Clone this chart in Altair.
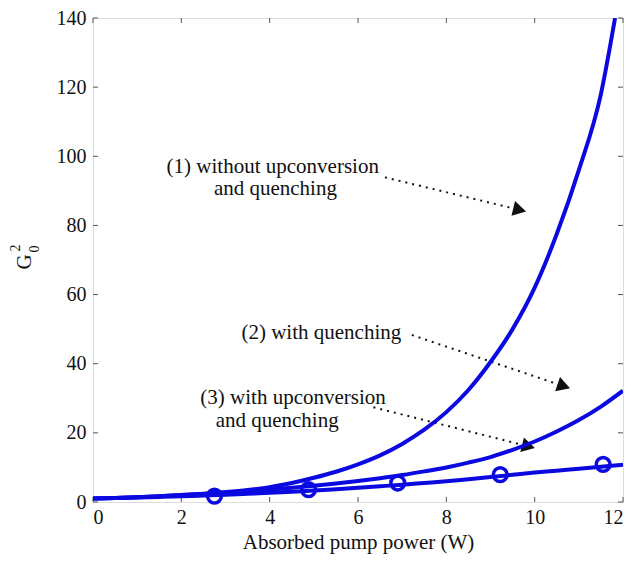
import math
import altair as alt
import pandas as pd

# ---------------- data ----------------
power_1 = [0, 0.5, 1, 1.5, 2, 2.5, 3, 3.5, 4, 4.5, 5, 5.5, 6, 6.5, 7, 7.5, 8, 8.5,
           9, 9.5, 10, 10.5, 11, 11.5, 11.82]
gain_1 = [1.0, 1.18, 1.4, 1.68, 2.0, 2.4, 2.9, 3.5, 4.3, 5.5, 7.0, 8.75, 10.9, 13.5,
          16.8, 20.9, 26.0, 32.4, 40.5, 50.0, 62.0, 77.5, 96.0, 118.0, 140.0]

power_23 = [0, 0.5, 1, 1.5, 2, 2.5, 3, 3.5, 4, 4.5, 5, 5.5, 6, 6.5, 7, 7.5, 8, 8.5,
            9, 9.5, 10, 10.5, 11, 11.5, 12]
gain_2 = [1.0, 1.18, 1.4, 1.68, 2.0, 2.33, 2.7, 3.1, 3.6, 4.1, 4.7, 5.35, 6.1, 6.9,
          7.8, 8.85, 10.0, 11.4, 13.0, 15.1, 17.5, 20.4, 23.7, 27.6, 32.2]
gain_3 = [1.0, 1.15, 1.3, 1.47, 1.65, 1.86, 2.1, 2.37, 2.65, 2.97, 3.3, 3.7, 4.1,
          4.55, 5.0, 5.5, 6.0, 6.6, 7.2, 7.85, 8.5, 9.05, 9.6, 10.2, 10.8]

circle_power = [2.75, 4.88, 6.9, 9.22, 11.55]
circle_gain = [1.7, 3.6, 5.5, 7.9, 10.9]

x_ticks = [0, 2, 4, 6, 8, 10, 12]
y_ticks = [0, 20, 40, 60, 80, 100, 120, 140]

label_text = ["(1) without upconversion", "and quenching", "(2) with quenching",
              "(3) with upconversion", "and quenching"]
label_x = [4.07, 4.13, 5.17, 4.53, 4.17]
label_y = [95.2, 88.7, 47.1, 28.4, 21.8]

arrow_x1 = [6.61, 7.22, 6.35]
arrow_y1 = [93.9, 48.3, 27.4]
arrow_x2 = [9.66, 10.66, 9.86]
arrow_y2 = [84.5, 33.5, 16.1]

# ---------------- layout ----------------
W, H = 530, 484
XMAX, YMAX = 12, 140
FONT = "Liberation Serif"
BLUE = "#0a0ae0"
FRAME = "#555555"

curves = pd.concat([
    pd.DataFrame({"P": power_1, "G": gain_1, "s": "1"}),
    pd.DataFrame({"P": power_23, "G": gain_2, "s": "2"}),
    pd.DataFrame({"P": power_23, "G": gain_3, "s": "3"}),
])
circles = pd.DataFrame({"P": circle_power, "G": circle_gain})
labels = pd.DataFrame({"t": label_text, "x": label_x, "y": label_y})
px, py = W / XMAX, H / YMAX
arrows = pd.DataFrame({
    "x1": arrow_x1, "y1": arrow_y1, "x2": arrow_x2, "y2": arrow_y2,
    "ang": [math.degrees(math.atan2((a - b) * py, (d - c) * px))
            for a, b, c, d in zip(arrow_y1, arrow_y2, arrow_x1, arrow_x2)],
})

xs = alt.Scale(domain=[0, XMAX], nice=False)
ys = alt.Scale(domain=[0, YMAX], nice=False)

x_axis = alt.Axis(values=x_ticks, ticks=False, domain=False, grid=False,
                  labelFont=FONT, labelFontSize=20, labelColor="#111",
                  labelPadding=5, title="Absorbed pump power (W)",
                  titleFont=FONT, titleFontSize=21, titleFontWeight="normal",
                  titleColor="#111", titlePadding=4)
y_axis = alt.Axis(values=y_ticks, ticks=False, domain=False, grid=False,
                  labelFont=FONT, labelFontSize=20, labelColor="#111",
                  labelPadding=7, title=None)

lines = alt.Chart(curves).mark_line(color=BLUE, strokeWidth=4, interpolate="monotone",
                                    clip=True).encode(
    x=alt.X("P:Q", scale=xs, axis=x_axis),
    y=alt.Y("G:Q", scale=ys, axis=y_axis),
    detail="s:N",
)

pts = alt.Chart(circles).mark_point(shape="circle", filled=False, color=BLUE,
                                    strokeWidth=3.5, size=190, opacity=1).encode(
    x=alt.X("P:Q", scale=xs), y=alt.Y("G:Q", scale=ys))

dots = alt.Chart(arrows).mark_rule(color="#111", strokeWidth=2,
                                   strokeDash=[2, 5]).encode(
    x=alt.X("x1:Q", scale=xs), y=alt.Y("y1:Q", scale=ys), x2="x2:Q", y2="y2:Q")

heads = alt.Chart(arrows).mark_point(shape="triangle-right", filled=True,
                                     color="#111", size=230, opacity=1).encode(
    x=alt.X("x2:Q", scale=xs), y=alt.Y("y2:Q", scale=ys),
    angle=alt.Angle("ang:Q", scale=None))

texts = alt.Chart(labels).mark_text(font=FONT, fontSize=21, color="#111",
                                    align="center", baseline="alphabetic").encode(
    x=alt.X("x:Q", scale=xs), y=alt.Y("y:Q", scale=ys), text="t:N")

# inward tick marks on all four sides
xt = pd.DataFrame({"v": x_ticks})
yt = pd.DataFrame({"v": y_ticks})
tb = alt.Chart(xt).mark_rule(color=FRAME, strokeWidth=1).encode(
    x=alt.X("v:Q", scale=xs), y=alt.value(H), y2=alt.value(H - 5))
tt = alt.Chart(xt).mark_rule(color=FRAME, strokeWidth=1).encode(
    x=alt.X("v:Q", scale=xs), y=alt.value(0), y2=alt.value(5))
tl = alt.Chart(yt).mark_rule(color=FRAME, strokeWidth=1).encode(
    y=alt.Y("v:Q", scale=ys), x=alt.value(0), x2=alt.value(5))
tr = alt.Chart(yt).mark_rule(color=FRAME, strokeWidth=1).encode(
    y=alt.Y("v:Q", scale=ys), x=alt.value(W), x2=alt.value(W - 5))

# y-axis title G_0^2 (rotated)
g_main = alt.Chart(pd.DataFrame({"t": ["G"]})).mark_text(
    font=FONT, fontSize=21, color="#111", angle=270, align="center",
    baseline="middle").encode(text="t:N", x=alt.value(-68), y=alt.value(244))
g_sup = alt.Chart(pd.DataFrame({"t": ["2"]})).mark_text(
    font=FONT, fontSize=14, color="#111", angle=270, align="center",
    baseline="middle").encode(text="t:N", x=alt.value(-77), y=alt.value(230))
g_sub = alt.Chart(pd.DataFrame({"t": ["0"]})).mark_text(
    font=FONT, fontSize=14, color="#111", angle=270, align="center",
    baseline="middle").encode(text="t:N", x=alt.value(-58), y=alt.value(231))

chart = alt.layer(
    tb, tt, tl, tr, dots, heads, texts, lines, pts, g_main, g_sup, g_sub
).properties(
    width=W, height=H,
    autosize=alt.AutoSizeParams(type="none"),
    padding={"left": 85, "top": 10, "right": 2, "bottom": 53},
).configure_view(stroke=FRAME, strokeWidth=1.2).configure(background="white")

chart.save("out.html", embed_options={"renderer": "svg", "actions": False})
